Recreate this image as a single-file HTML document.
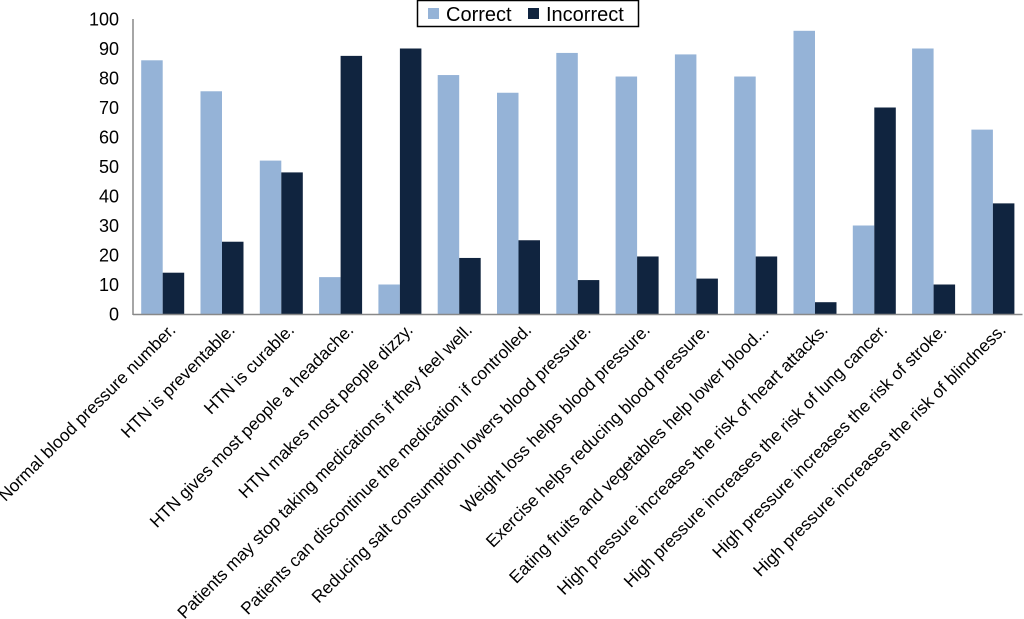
<!DOCTYPE html>
<html><head><meta charset="utf-8"><style>
html,body{margin:0;padding:0;background:#fff;}
svg{display:block;font-family:"Liberation Sans",Arial,sans-serif;}
</style></head><body>
<svg id="chart" width="1024" height="619" viewBox="0 0 1024 619" xmlns="http://www.w3.org/2000/svg">
<g id="plot"></g>
<g id="legend">
<rect x="417.5" y="0.5" width="221" height="26" fill="#fff" stroke="#000" stroke-width="1.5"/>
<rect x="428" y="8" width="11" height="11" fill="#95b3d7"/>
<text x="446" y="21" font-size="20">Correct</text>
<rect x="528" y="8" width="11" height="11" fill="#10243f"/>
<text x="546" y="21" font-size="20">Incorrect</text>
</g>
</svg>
<script>
const categories = ["Normal blood pressure number.","HTN is preventable.","HTN is curable.","HTN gives most people a headache.","HTN makes most people dizzy.","Patients may stop taking medications if they feel well.","Patients can discontinue the medication if controlled.","Reducing salt consumption lowers blood pressure.","Weight loss helps blood pressure.","Exercise helps reducing blood pressure.","Eating fruits and vegetables help lower blood...","High pressure increases the risk of heart attacks.","High pressure increases the risk of lung cancer.","High pressure increases the risk of stroke.","High pressure increases the risk of blindness."];
const correctValues = [86,75.5,52,12.5,10,81,75,88.5,80.5,88,80.5,96,30,90,62.5];
const incorrectValues = [14,24.5,48,87.5,90,19,25,11.5,19.5,12,19.5,4,70,10,37.5];
const yTicks = [0,10,20,30,40,50,60,70,80,90,100];

const NS = "http://www.w3.org/2000/svg";
const plot = document.getElementById('plot');
const x0 = 133, groupW = 59.3, y0 = 314, yTop = 19, barW = 21.5, pad = 8.2;
const yScale = v => y0 - (v/100)*(y0-yTop);
const xGroup = i => x0 + i*groupW;
function mk(tag, attrs){const e=document.createElementNS(NS,tag);for(const k in attrs)e.setAttribute(k,attrs[k]);plot.appendChild(e);return e;}

yTicks.forEach(t=>{
  const e = mk('text',{x:119,y:yScale(t)+6.5,'font-size':18,'text-anchor':'end',fill:'#000'});
  
  
  e.textContent = t;
});

categories.forEach((c,i)=>{
  const gx = xGroup(i);
  const r1 = mk('rect',{x:gx+pad,y:yScale(correctValues[i]),width:barW,height:y0-yScale(correctValues[i]),fill:'#95b3d7'});
  
  
  const r2 = mk('rect',{x:gx+pad+barW,y:yScale(incorrectValues[i]),width:barW,height:y0-yScale(incorrectValues[i]),fill:'#10243f'});
  
  
  const cx = gx + groupW/2 + 14, cy = 331;
  const t = mk('text',{x:cx,y:cy,'font-size':17.3,'text-anchor':'end',fill:'#000',transform:`rotate(-45 ${cx} ${cy})`});
  
  
  t.textContent = c;
});

const ya = mk('line',{x1:x0,y1:yTop,x2:x0,y2:y0+1,stroke:'#888','stroke-width':1.5});


const xa = mk('line',{x1:x0,y1:y0+0.5,x2:x0+15*groupW,y2:y0+0.5,stroke:'#888','stroke-width':1.5});


</script>
</body></html>
